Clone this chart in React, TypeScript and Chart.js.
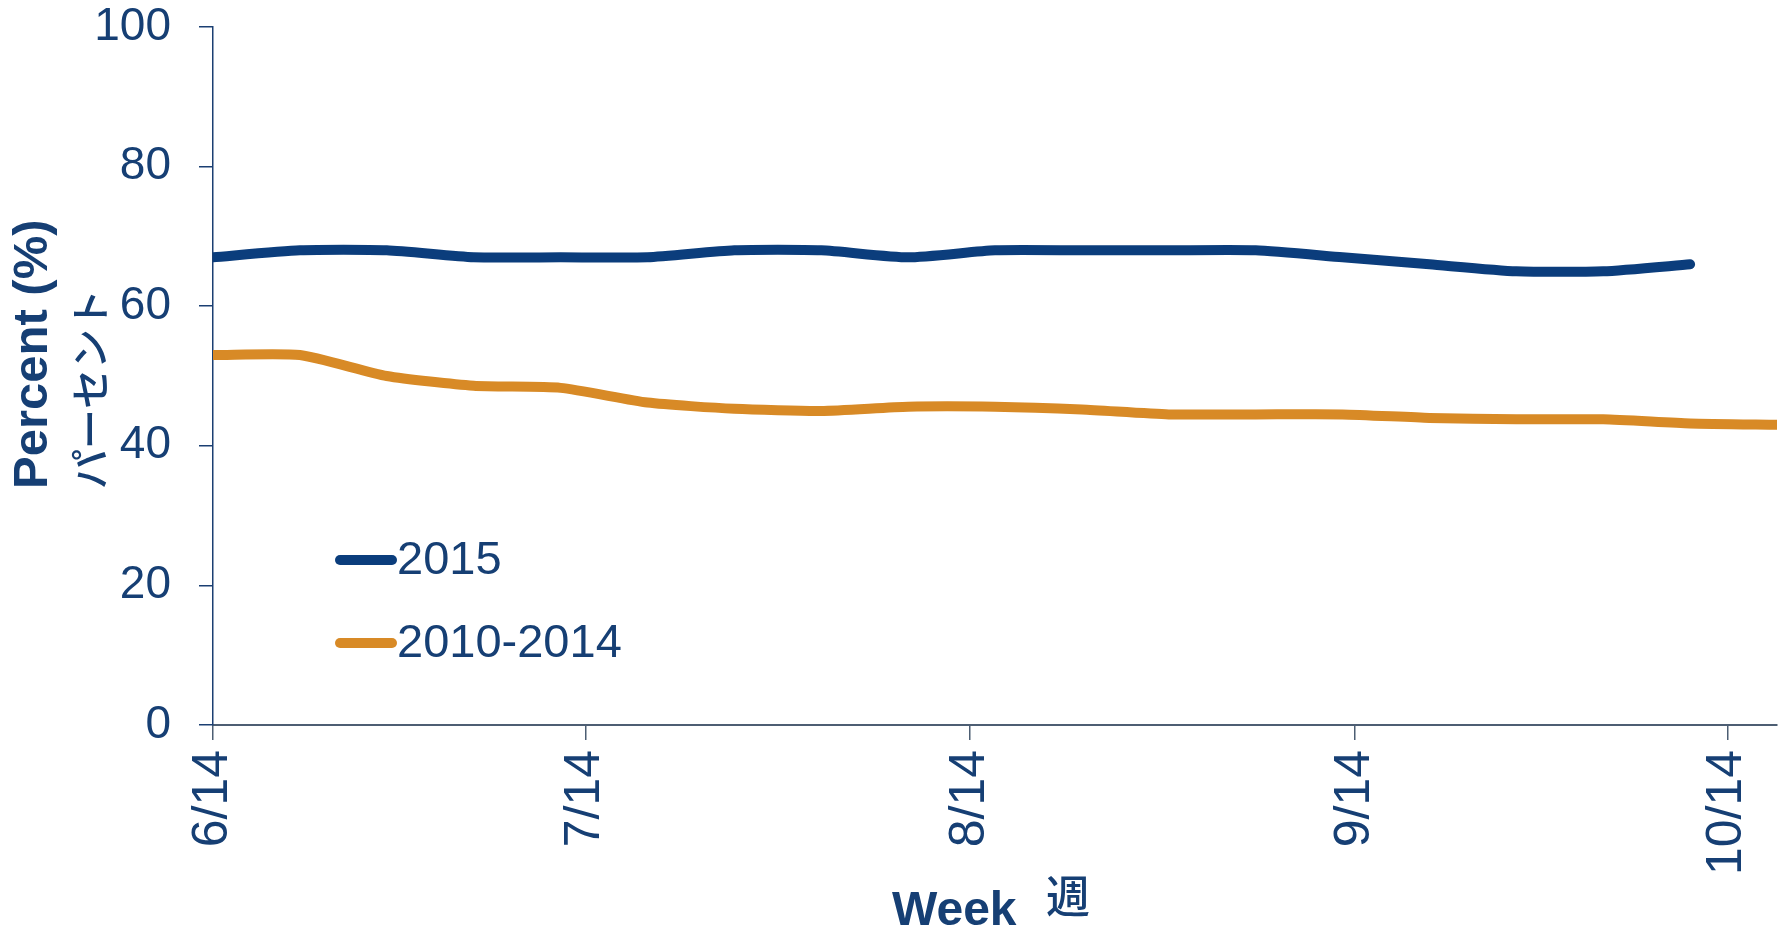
import React, { useEffect, useRef } from "react";
import { Chart, registerables } from "chart.js";

Chart.register(...registerables);

// Week start dates (day offset from 6/14)
const weekLabels = ["6/14","6/21","6/28","7/5","7/12","7/19","7/26","8/2","8/9","8/16","8/23","8/30","9/6","9/13","9/20","9/27","10/4","10/11","10/18"];
const weekDays = [0,7,14,21,28,35,42,49,56,63,70,77,84,91,98,105,112,119,126];

const series2015 = [67,68,68,67,67,67,68,68,67,68,68,68,68,67,66,65,65,66];
const series2010_2014 = [53,53,50,48.6,48.3,46.2,45.3,45,45.6,45.6,45.2,44.5,44.5,44.5,44,43.8,43.8,43.2,43];

const xTickDays = [0,30,61,92,122];
const xTickLabels = ["6/14","7/14","8/14","9/14","10/14"];

const yTitle = "Percent (%)";
const yTitleJa = "パーセント";
const xTitle = "Week";
const xTitleJa = "週";

const BLUE = "#0b3d7c";
const ORANGE = "#d88a26";
const TEXT = "#163f74";
const SANS = "'Liberation Sans', Arial, sans-serif";
const CJK = "'Noto Sans CJK JP', sans-serif";

const overlayPlugin = {
  id: "overlay",
  afterDraw(chart: any) {
    const ctx = chart.ctx;
    const ca = chart.chartArea;
    ctx.save();
    // Legend
    const ds = chart.data.datasets;
    const legendY = [ca.top + 533, ca.top + 616];
    ds.forEach((d: any, i: number) => {
      const y = legendY[i];
      ctx.strokeStyle = d.borderColor;
      ctx.lineWidth = 10;
      ctx.lineCap = "round";
      ctx.beginPath();
      ctx.moveTo(ca.left + 127, y);
      ctx.lineTo(ca.left + 179, y);
      ctx.stroke();
      ctx.fillStyle = TEXT;
      ctx.font = `47px ${SANS}`;
      ctx.textAlign = "left";
      ctx.textBaseline = "middle";
      ctx.fillText(d.label, ca.left + 184, y + 1);
    });

    // Y title
    ctx.fillStyle = TEXT;
    ctx.save();
    ctx.translate(47, 489);
    ctx.rotate(-Math.PI / 2);
    ctx.font = `bold 49px ${SANS}`;
    ctx.textAlign = "left";
    ctx.textBaseline = "alphabetic";
    ctx.fillText(yTitle, 0, 0);
    ctx.restore();

    ctx.save();
    ctx.translate(90, 489);
    ctx.rotate(-Math.PI / 2);
    ctx.font = `500 40px ${CJK}`;
    ctx.textAlign = "left";
    ctx.textBaseline = "middle";
    ctx.fillText(yTitleJa, 0, 0);
    ctx.restore();

    // X title
    ctx.font = `bold 48px ${SANS}`;
    ctx.textAlign = "left";
    ctx.textBaseline = "alphabetic";
    ctx.fillText(xTitle, 892, 925);
    ctx.font = `500 44px ${CJK}`;
    ctx.textBaseline = "middle";
    ctx.fillText(xTitleJa, 1046, 896);
    ctx.restore();
  },
};

export default function App() {
  const ref = useRef<HTMLCanvasElement>(null);
  useEffect(() => {
    if (!ref.current) return;
    const chart = new Chart(ref.current, {
      type: "line",
      data: {
        datasets: [
          {
            label: "2015",
            data: series2015.map((v, i) => ({ x: weekDays[i], y: v })),
            borderColor: BLUE,
            backgroundColor: BLUE,
            borderWidth: 10,
            pointRadius: 0,
            tension: 0.2,
            borderCapStyle: "round",
            borderJoinStyle: "round",
          },
          {
            label: "2010-2014",
            data: series2010_2014.map((v, i) => ({ x: weekDays[i], y: v })),
            borderColor: ORANGE,
            backgroundColor: ORANGE,
            borderWidth: 10,
            pointRadius: 0,
            tension: 0.2,
            borderCapStyle: "round",
            borderJoinStyle: "round",
          },
        ],
      },
      options: {
        animation: false,
        responsive: false,
        maintainAspectRatio: false,
        layout: { padding: { top: 27, right: 13, left: 0, bottom: 0 } },
        plugins: { legend: { display: false }, tooltip: { enabled: false }, title: { display: false } },
        scales: {
          x: {
            type: "linear",
            min: 0,
            max: 126,
            afterBuildTicks: (scale: any) => {
              scale.ticks = xTickDays.map((v) => ({ value: v }));
            },
            afterFit: (scale: any) => {
              scale.height = 205;
              scale.paddingLeft = 0;
              scale.paddingRight = 0;
            },
            ticks: {
              autoSkip: false,
              minRotation: 90,
              maxRotation: 90,
              padding: 10,
              color: TEXT,
              font: { size: 50, family: SANS },
              callback: (v: any) => {
                const idx = xTickDays.indexOf(Number(v));
                return idx >= 0 ? xTickLabels[idx] : "";
              },
            },
            grid: { drawOnChartArea: false, drawTicks: true, tickLength: 15, color: "#4d5e73", lineWidth: 1.5 },
            border: { display: true, color: "#4d5e73", width: 2 },
          },
          y: {
            min: 0,
            max: 100,
            afterFit: (scale: any) => {
              scale.width = 213;
              scale.paddingTop = 0;
              scale.paddingBottom = 0;
            },
            ticks: {
              stepSize: 20,
              padding: 28,
              color: TEXT,
              font: { size: 46, family: SANS },
            },
            grid: { drawOnChartArea: false, drawTicks: true, tickLength: 14, color: "#1b3f72", lineWidth: 1.5 },
            border: { display: true, color: "#1b3f72", width: 1.5 },
          },
        },
      },
      plugins: [overlayPlugin],
    } as any);
    return () => chart.destroy();
  }, []);
  return (
    <div style={{ position: "fixed", left: 0, top: 0, width: 1790, height: 930, background: "#fff" }}>
      <canvas ref={ref} width={1790} height={930} style={{ width: 1790, height: 930 }} />
    </div>
  );
}
